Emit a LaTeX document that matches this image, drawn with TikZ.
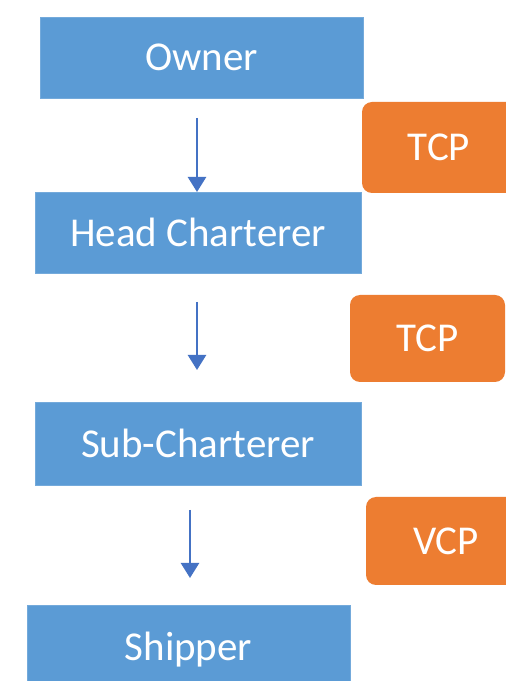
\documentclass[tikz,border=0pt]{standalone}
\usepackage{fontspec}
\setmainfont{Carlito}
\usetikzlibrary{arrows.meta}
\definecolor{boxblue}{HTML}{5B9BD5}
\definecolor{boxorange}{HTML}{ED7D31}
\definecolor{arrowblue}{HTML}{4472C4}
\begin{document}
\begin{tikzpicture}[x=1pt,y=1pt,
  lbl/.style={text=white, font=\fontsize{41}{45}\selectfont, inner sep=0pt, outer sep=0pt},
  party/.style={lbl, fill=boxblue, draw=boxblue!85!white, line width=0.8pt},
  contract/.style={lbl, fill=boxorange, rounded corners=10pt},
  flow/.style={draw=arrowblue, line width=2.4pt, -{Triangle[width=18pt,length=15pt]}}]
\useasboundingbox (0,0) rectangle (506,681);
\fill[white] (0,0) rectangle (506,681);
\clip (0,0) rectangle (506,681);
% parties (blue)
\node[party, minimum width=323pt, minimum height=81pt] (owner) at (201.5,623.5) {Owner};
\node[party, minimum width=326pt, minimum height=81pt] (head) at (198,448.5) {Head Charterer};
\node[party, minimum width=326pt, minimum height=83pt] (sub) at (198,237.5) {Sub-Charterer};
\node[party, minimum width=323pt, minimum height=90pt] (shipper) at (188.5,31) {Shipper};
% contracts (orange)
\node[contract, minimum width=154pt, minimum height=91pt] (tcp1) at (439,533.5) {TCP};
\node[contract, minimum width=155pt, minimum height=87pt] (tcp2) at (427.5,342.5) {TCP};
\node[contract, minimum width=160pt, minimum height=88pt] (vcp) at (446,140) {VCP};
% arrow columns
\coordinate (colA) at (197,0);
\coordinate (colB) at (190,0);
% arrows
\draw[flow, shorten <=20pt] (owner.south -| colA) -- (head.north -| colA);
\draw[flow, shorten <=29pt, shorten >=32pt] (head.south -| colA) -- (sub.north -| colA);
\draw[flow, shorten <=25pt, shorten >=27pt] (sub.south -| colB) -- (shipper.north -| colB);
\end{tikzpicture}
\end{document}
